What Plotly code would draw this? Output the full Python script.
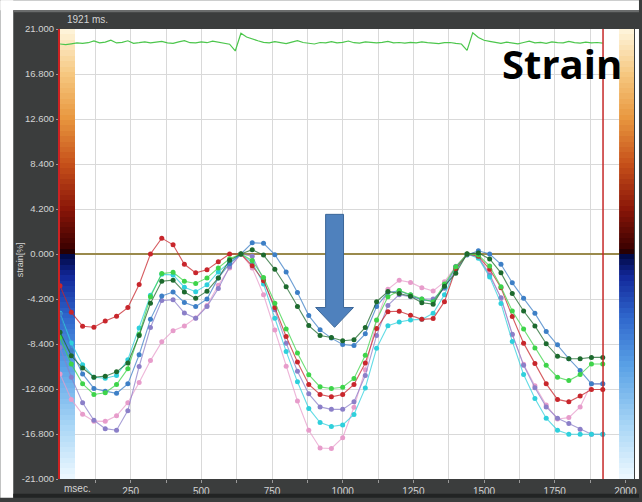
import plotly.graph_objects as go

# ---------------- data ----------------
frame_ms = 40
n_frames = 49
time_ms = [i * frame_ms for i in range(n_frames)]

red = [-2.97, -5.44, -6.74, -6.83, -6.25, -5.81, -5.00, -2.85, 0.00, 1.48, 0.86, -0.96, -1.76, -1.48, -0.72, 0.00, 0.00,
       -1.10, -2.50, -5.00, -7.70, -10.08, -12.18, -13.11, -13.33, -13.11, -12.18, -10.17, -6.95, -5.38, -5.35, -5.72,
       -6.10, -6.03, -4.45, -1.40, 0.00,
       -0.20, -1.43, -3.15, -5.84, -8.32, -10.23, -12.12, -13.57, -13.80, -13.26, -12.64, -12.64]
dark_green = [-7.30, -9.50, -10.64, -11.50, -11.40, -11.00, -10.17, -7.60, -4.60, -2.54, -2.44, -3.55, -4.14, -3.47, -2.23, -0.59, 0.00,
              0.40, -0.10, -1.43, -3.06, -4.91, -6.68, -7.60, -7.79, -8.10, -8.00, -6.85, -4.45, -3.50, -3.68, -3.95,
              -4.55, -4.68, -3.00, -1.80, 0.00,
              0.10, -0.46, -1.76, -3.68, -5.32, -6.71, -8.38, -9.55, -9.77, -9.77, -9.65, -9.65]
green = [-7.80, -10.26, -12.12, -13.11, -12.95, -12.18, -10.70, -7.50, -3.99, -1.83, -1.70, -2.54, -2.75, -2.23, -1.30, -0.44, 0.00,
         -0.60, -2.20, -4.60, -6.99, -9.24, -11.26, -12.40, -12.55, -12.43, -11.62, -9.46, -6.15, -4.00, -3.40, -3.80,
         -4.20, -4.45, -2.80, -1.20, 0.00,
         -0.10, -1.12, -3.06, -5.32, -6.99, -8.78, -10.39, -11.50, -11.81, -11.25, -10.26, -10.26]
cyan = [-5.53, -8.30, -10.33, -11.50, -11.60, -11.35, -9.86, -6.90, -3.85, -1.90, -1.95, -3.10, -3.52, -2.88, -1.67, -0.77, 0.00,
        -0.80, -2.80, -6.00, -9.09, -11.93, -14.41, -15.73, -16.10, -15.95, -14.98, -12.50, -8.80, -6.70, -6.35, -6.15,
        -6.10, -5.53, -3.80, -1.50, 0.00,
        -0.40, -2.14, -4.61, -8.16, -11.25, -13.48, -15.33, -16.45, -16.82, -16.82, -16.82, -16.82]
blue = [-5.60, -9.00, -11.19, -12.55, -12.80, -13.00, -12.12, -9.40, -6.10, -3.92, -3.55, -4.52, -4.91, -4.20, -2.23, -0.90, 0.00,
        1.05, 1.00, -0.06, -1.67, -3.59, -5.75, -7.08, -7.85, -8.44, -8.55, -7.45, -4.90, -3.60, -3.43, -3.83,
        -4.30, -4.40, -3.10, -1.20, -0.10,
        0.30, 0.00, -0.96, -2.69, -4.14, -5.54, -7.24, -8.47, -9.77, -10.88, -12.12, -12.12]
purple = [-8.72, -11.50, -13.88, -15.52, -16.30, -16.45, -14.62, -10.50, -6.86, -4.35, -4.27, -5.50, -6.00, -4.91, -3.22, -1.20, 0.00,
          -0.20, -2.40, -5.20, -8.32, -10.94, -13.05, -14.27, -14.50, -14.50, -13.79, -11.34, -7.60, -4.80, -3.80, -4.00,
          -4.20, -4.20, -3.20, -1.50, 0.00,
          -0.30, -1.98, -4.08, -7.48, -10.39, -12.49, -14.28, -15.33, -15.83, -16.35, -16.82, -16.82]
pink = [-11.19, -13.57, -14.96, -15.60, -15.62, -15.10, -13.88, -12.00, -9.95, -8.20, -7.16, -6.72, -5.97, -4.80, -2.91, -1.30, 0.00,
        -1.30, -3.80, -7.10, -10.48, -13.72, -16.45, -18.10, -18.15, -17.15, -14.30, -10.80, -6.20, -3.30, -2.45, -2.65,
        -3.14, -3.45, -2.60, -1.15, 0.00,
        -0.30, -1.83, -4.14, -7.54, -10.30, -12.30, -14.10, -15.40, -15.27, -14.28, -12.12, -12.12]

ecg_step_ms = 20
ecg = [19.60, 19.55, 19.62, 19.70, 19.65, 19.72, 19.88, 19.70, 19.78, 19.95, 19.70, 19.75, 19.90, 19.66, 19.72, 19.80,
       19.70, 19.76, 19.84, 19.70, 19.66, 19.80, 19.92, 19.72, 19.70, 19.80, 19.72, 19.86, 19.78, 19.66, 19.58,
       18.95, 20.60, 20.25, 20.05, 19.90,
       19.75, 19.70, 19.82, 19.72, 19.64, 19.78, 19.92, 19.74, 19.68, 19.60, 19.74, 19.70, 19.82, 19.70, 19.76, 19.88,
       19.72, 19.68, 19.80, 19.72, 19.70, 19.76, 19.84, 19.70, 19.74, 19.68, 19.76, 19.70, 19.80, 19.72, 19.70, 19.64,
       19.72, 19.74, 19.66,
       19.60, 19.00, 20.65, 20.20, 19.95, 19.85,
       19.72, 19.66, 19.78, 19.70, 19.62, 19.74, 19.86, 19.70, 19.76, 19.66, 19.80, 19.72, 19.70, 19.84, 19.72, 19.68,
       19.78, 19.70, 19.74, 19.68]
ecg_time = [i * ecg_step_ms for i in range(len(ecg))]

cursor_ms = 1921
y_tickvals = [21.0, 16.8, 12.6, 8.4, 4.2, 0.0, -4.2, -8.4, -12.6, -16.8, -21.0]
y_ticktext = ["21.000", "16.800", "12.600", "8.400", "4.200", "0.000", "-4.200", "-8.400", "-12.600", "-16.800", "-21.000"]
x_tickvals = [125, 250, 375, 500, 625, 750, 875, 1000, 1125, 1250, 1375, 1500, 1625, 1750, 1875, 2000]
x_ticktext = ["", "250", "", "500", "", "750", "", "1000", "", "1250", "", "1500", "", "1750", "", "2000"]

series = [
    ("pink", pink, "#e79ccb"),
    ("purple", purple, "#8b7fc8"),
    ("cyan", cyan, "#2fd0dc"),
    ("blue", blue, "#3d7fc6"),
    ("red", red, "#c8262c"),
    ("green", green, "#3ed44a"),
    ("dark green", dark_green, "#1d6a2e"),
]

# ---------------- figure ----------------
W, H = 642, 502
L, R, T, B = 60, 5, 29, 19
pw, ph = W - L - R, H - T - B
px_per_ms = 35.52 / 125.0
x_max = pw / px_per_ms
y_min, y_max = -21.0, 21.0


def px2paper_x(px):
    return (px - L) / pw


def px2paper_y(py):
    return (H - B - py) / ph


def px2ms(px):
    return (px - L) / px_per_ms


def py2val(py):
    return y_max - (py - T) / ph * (y_max - y_min)


fig = go.Figure()

# colour bars (gradient) on both sides
edges = [y_min + k * 0.5 for k in range(85)]
mids = [(edges[k] + edges[k + 1]) / 2 for k in range(84)]
cscale = [
    [0.0, "#eef9ff"], [0.12, "#a8d6f6"], [0.25, "#5aa2e6"], [0.36, "#2f66cc"],
    [0.45, "#12289a"], [0.495, "#020a48"], [0.5, "#100008"], [0.51, "#3a0000"],
    [0.6, "#8a1608"], [0.7, "#c6501a"], [0.8, "#e8963e"], [0.9, "#f6c880"], [1.0, "#fff6de"],
]
for x0, x1 in [(0, px2ms(75)), (px2ms(622), x_max)]:
    fig.add_trace(go.Heatmap(x=[x0, x1], y=edges, z=[[m] for m in mids], colorscale=cscale,
                             zmin=y_min, zmax=y_max, showscale=False, hoverinfo="skip"))

# ECG trace
fig.add_trace(go.Scatter(x=ecg_time, y=ecg, mode="lines", line=dict(color="#4cc64c", width=1.2),
                         hoverinfo="skip"))


def rgba(hexc, a):
    h = hexc.lstrip("#")
    return "rgba(%d,%d,%d,%.2f)" % (int(h[0:2], 16), int(h[2:4], 16), int(h[4:6], 16), a)


for name, vals, col in series:
    fig.add_trace(go.Scatter(x=time_ms, y=vals, mode="lines+markers", name=name,
                             line=dict(color=rgba(col, 0.75), width=1.1),
                             marker=dict(color=col, size=5)))

shapes = []
# white outer margins
for (x0, y0, x1, y1) in [(0, 0, W, 10), (0, 0, 13, H), (638, 29, W, 483)]:
    shapes.append(dict(type="rect", xref="paper", yref="paper", x0=px2paper_x(x0), x1=px2paper_x(x1),
                       y0=px2paper_y(y0), y1=px2paper_y(y1), fillcolor="white", line=dict(width=0), layer="below"))
# frame details
shapes.append(dict(type="line", xref="paper", yref="paper", x0=px2paper_x(13), x1=px2paper_x(W),
                   y0=px2paper_y(11), y1=px2paper_y(11), line=dict(color="#6a6c6c", width=2)))
shapes.append(dict(type="rect", xref="paper", yref="paper", x0=px2paper_x(13), x1=px2paper_x(W),
                   y0=px2paper_y(498), y1=px2paper_y(H), fillcolor="#222424", line=dict(width=0)))
# zero line
shapes.append(dict(type="line", xref="x", yref="y", x0=px2ms(75), x1=px2ms(622), y0=0, y1=0,
                   line=dict(color="#9a8a4c", width=2), layer="between"))
# cursor line
shapes.append(dict(type="line", xref="x", yref="y", x0=cursor_ms, x1=cursor_ms, y0=y_min, y1=y_max,
                   line=dict(color="#c62828", width=1.5)))
# blue arrow
ax0, ax1 = px2ms(327), px2ms(345)
hx0, hx1, tipx = px2ms(317), px2ms(355), px2ms(336)
ytop, ybase, ytip = py2val(216), py2val(310), py2val(330)
path = (f"M {ax0},{ytop} L {ax1},{ytop} L {ax1},{ybase} L {hx1},{ybase} L {tipx},{ytip} "
        f"L {hx0},{ybase} L {ax0},{ybase} Z")
shapes.append(dict(type="path", xref="x", yref="y", path=path, fillcolor="#4f81bd",
                   line=dict(color="#3a6698", width=1)))

annotations = [
    dict(text="1921 ms.", xref="paper", yref="paper", x=px2paper_x(65), y=px2paper_y(19), xanchor="left",
         yanchor="middle", showarrow=False, font=dict(family="Liberation Sans", size=10, color="#d4d4d4")),
    dict(text="msec.", xref="paper", yref="paper", x=px2paper_x(78), y=px2paper_y(493), xanchor="center",
         yanchor="middle", showarrow=False, font=dict(family="Liberation Sans", size=10, color="#d4d4d4")),
    dict(text="strain[%]", xref="paper", yref="paper", x=px2paper_x(20), y=px2paper_y(262), xanchor="center",
         yanchor="middle", textangle=-90, showarrow=False,
         font=dict(family="Liberation Sans", size=9, color="#d4d4d4")),
    dict(text="<b>Strain</b>", xref="paper", yref="paper", x=px2paper_x(565), y=px2paper_y(64),
         xanchor="center", yanchor="middle", showarrow=False,
         font=dict(family="Open Sans", size=40, color="#000000")),
]

fig.update_layout(
    width=W, height=H, margin=dict(l=L, r=R, t=T, b=B, pad=0),
    paper_bgcolor="#3b3d3d", plot_bgcolor="white", showlegend=False,
    shapes=shapes, annotations=annotations,
    xaxis=dict(range=[0, x_max], tickvals=x_tickvals, ticktext=x_ticktext, showgrid=True,
               gridcolor="#d9d9d9", gridwidth=1, zeroline=False, ticks="outside", ticklen=3,
               tickcolor="#9a9a9a", tickfont=dict(family="Liberation Sans", size=10, color="#d4d4d4"),
               showline=False, fixedrange=True),
    yaxis=dict(range=[y_min, y_max], tickvals=y_tickvals, ticktext=y_ticktext, showgrid=True,
               gridcolor="#d9d9d9", gridwidth=1, zeroline=False, ticks="outside", ticklen=2,
               tickcolor="#9a9a9a", tickfont=dict(family="Liberation Sans", size=9.5, color="#d4d4d4"),
               showline=True, linecolor="#cc2222", linewidth=2, fixedrange=True),
)

fig.write_html("out.html")
